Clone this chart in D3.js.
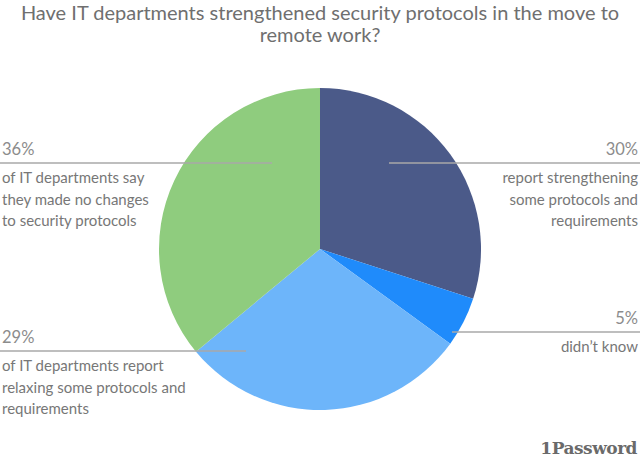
<!DOCTYPE html>
<meta charset="utf-8">
<title>IT security protocols</title>
<style>
body { margin: 0; background: #fff; }
svg { display: block; font-family: Lato, "Open Sans", sans-serif; }
</style>
<svg width="640" height="463"></svg>
<script src="https://cdn.jsdelivr.net/npm/d3@7"></script>
<script>

// answers, in clockwise order starting from 12 o'clock
var answers = ["strengthened", "didn't know", "relaxed", "no changes"];
var shares = [30, 5, 29, 36];
var colors = ["#4b5a89", "#1f8bfb", "#6db5fa", "#8fcc7e"];

// callout text for every slice
var pctLabels = ["30%", "5%", "29%", "36%"];
var captions = [
  ["report strengthening", "some protocols and", "requirements"],
  ["didn\u2019t know"],
  ["of IT departments report", "relaxing some protocols and", "requirements"],
  ["of IT departments say", "they made no changes", "to security protocols"]
];
// which side the callout sits on and how high its rule is
var sides = ["right", "right", "left", "left"];
var ruleY = [163, 332, 351, 163];
var ruleInner = [389, 452, 246, 272];

var svg = d3.select("svg"),
    width = +svg.attr("width"),
    height = +svg.attr("height");

var cx = 320, cy = 249, radius = 161;

// title
svg.append("text")
    .attr("x", width / 2)
    .attr("text-anchor", "middle")
    .attr("fill", "#6f6f6f")
    .attr("font-size", 20)
    .selectAll("tspan")
    .data(["Have IT departments strengthened security protocols in the move to", "remote work?"])
  .enter().append("tspan")
    .attr("x", width / 2)
    .attr("y", function(d, i) { return 20 + i * 22; })
    .text(function(d) { return d; });

var pie = d3.pie().sort(null).value(function(d) { return d; });
var arc = d3.arc().innerRadius(0).outerRadius(radius);

var g = svg.append("g").attr("transform", "translate(" + cx + "," + cy + ")");

g.selectAll("path")
    .data(pie(shares))
  .enter().append("path")
    .attr("d", arc)
    .attr("fill", function(d, i) { return colors[i]; });

// callouts
var callouts = svg.append("g").attr("class", "callouts");

answers.forEach(function(a, i) {
  var right = sides[i] == "right";
  var x0 = right ? 638 : 2;
  var anchor = right ? "end" : "start";

  callouts.append("line")
      .attr("x1", right ? ruleInner[i] : 0)
      .attr("x2", right ? width : ruleInner[i])
      .attr("y1", ruleY[i])
      .attr("y2", ruleY[i])
      .attr("stroke", "#a9a9a9")
      .attr("stroke-width", 1.5);

  callouts.append("text")
      .attr("x", x0)
      .attr("y", ruleY[i] - 8)
      .attr("text-anchor", anchor)
      .attr("fill", "#8c8c8c")
      .attr("font-size", 16.5)
      .text(pctLabels[i]);

  callouts.append("text")
      .attr("text-anchor", anchor)
      .attr("fill", "#777")
      .attr("font-size", 15)
    .selectAll("tspan")
      .data(captions[i])
    .enter().append("tspan")
      .attr("x", x0)
      .attr("y", function(d, j) { return ruleY[i] + 20 + j * 21.5; })
      .text(function(d) { return d; });
});

// logo
svg.append("text")
    .attr("x", 637)
    .attr("y", 454)
    .attr("text-anchor", "end")
    .attr("fill", "#6a6a6a")
    .attr("font-family", "'DejaVu Serif', serif")
    .attr("font-weight", "bold")
    .attr("font-size", 17)
    .attr("letter-spacing", -0.5)
    .text("1Password");

</script>
